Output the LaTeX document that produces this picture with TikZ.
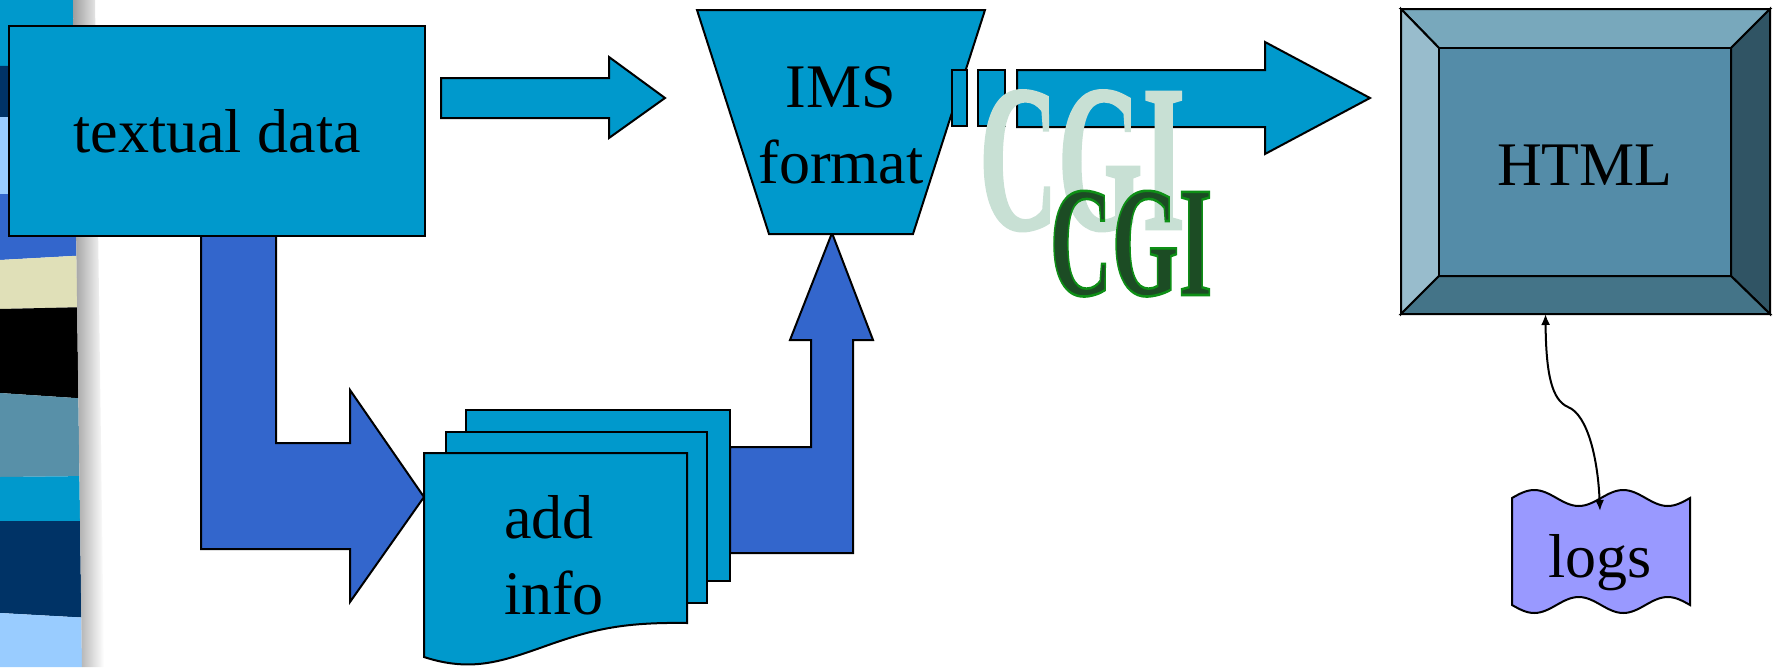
\documentclass[tikz,border=0pt]{standalone}
\usepackage{fontspec}
\setmainfont{Liberation Serif}
\usetikzlibrary{arrows.meta}

\definecolor{boxcyan}{HTML}{0099CC}
\definecolor{arrowblue}{HTML}{3366CC}
\definecolor{logsviolet}{HTML}{9999FF}
\definecolor{navy}{HTML}{003366}
\definecolor{skyblue}{HTML}{99CCFF}
\definecolor{cream}{HTML}{E0E0B8}
\definecolor{steel}{HTML}{5890A8}
\definecolor{bevtop}{HTML}{78A8BC}
\definecolor{bevleft}{HTML}{98BCCC}
\definecolor{bevright}{HTML}{305464}
\definecolor{bevbottom}{HTML}{447488}
\definecolor{screen}{HTML}{548CA8}
\definecolor{cgipale}{HTML}{C8E0D4}
\definecolor{cgidark}{HTML}{1C4C24}

% glyphs filled and stroked: #1 = stroke width, #2 = stroke colour (rgb), #3 = text
\newcommand{\strokedtext}[3]{%
  \special{pdf:literal direct 2 Tr #1 w #2 RG}#3\special{pdf:literal direct 0 Tr}}

\tikzset{
  outline/.style={draw=black, line width=2pt, line join=miter},
  panel/.style={outline, fill=boxcyan},
  blockarrow/.style={outline, fill=arrowblue},
  lbl/.style={inner sep=0pt, outer sep=0pt, font=\fontsize{62}{76}\selectfont},
  link/.style={line width=2pt,
    {Latex[length=11pt,width=9pt]}-{Latex[length=11pt,width=9pt]}},
}

\begin{document}
\begin{tikzpicture}[x=1pt, y=-1pt]
\useasboundingbox (0,0) rectangle (1773,667);
\fill[white] (0,0) rectangle (1773,667);

% striped side band with its soft shadow
\begin{scope}
  \clip (0,0) -- (73,0) -- (82,667) -- (0,667) -- cycle;
  \fill[boxcyan]    (0,0)   -- (90,0)   -- (90,64)  -- (0,66)  -- cycle;
  \fill[navy]       (0,66)  -- (90,64)  -- (90,117) -- (0,117) -- cycle;
  \fill[skyblue]    (0,117) -- (90,117) -- (90,194) -- (0,194) -- cycle;
  \fill[arrowblue]  (0,194) -- (90,194) -- (90,255) -- (0,260) -- cycle;
  \fill[cream]      (0,260) -- (90,255) -- (90,307) -- (0,309) -- cycle;
  \fill[black]      (0,309) -- (90,307) -- (90,399) -- (0,393) -- cycle;
  \fill[steel]      (0,393) -- (90,399) -- (90,476) -- (0,477) -- cycle;
  \fill[boxcyan]    (0,477) -- (90,476) -- (90,521) -- (0,521) -- cycle;
  \fill[navy]       (0,521) -- (90,521) -- (90,618) -- (0,613) -- cycle;
  \fill[skyblue]    (0,613) -- (90,618) -- (90,667) -- (0,667) -- cycle;
\end{scope}
\shade[left color=black!38, right color=white]
  (73,0) -- (95,0) -- (104,667) -- (82,667) -- cycle;

% bent arrow from the text block down to the sheets
\path[blockarrow] (201,233) -- (276,233) -- (276,443) -- (350,443) -- (350,390)
  -- (424,497) -- (350,602) -- (350,549) -- (201,549) -- cycle;

\node[panel, minimum width=416pt, minimum height=210pt, inner sep=0pt,
      outer sep=0pt, font=\fontsize{62}{76}\selectfont]
  (textual) at (217,131) {textual data};

% straight arrow towards the format stage
\path[panel] (441,78) -- (609,78) -- (609,57) -- (665,98) -- (609,138)
  -- (609,118) -- (441,118) -- cycle;

% bent arrow from the sheets up to the format stage
\path[blockarrow] (730,447) -- (811,447) -- (811,340) -- (790,340) -- (832,233)
  -- (873,340) -- (853,340) -- (853,553) -- (730,553) -- cycle;

% stack of sheets
\path[panel] (466,410) rectangle (730,581);
\path[panel] (446,432) rectangle (707,603);
\path[panel] (424,453) -- (687,453) -- (687,623)
  .. controls (620,622) and (590,630) .. (540,648)
  .. controls (500,662) and (470,672) .. (424,657) -- cycle;
\node[lbl, align=left, anchor=west] (addinfo) at (504,555) {add\\info};

% format stage
\path[panel] (697,10) -- (985,10) -- (913,234) -- (769,234) -- cycle;
\node[lbl, align=center] (ims) at (841,125) {IMS\\format};

% broken arrow towards the page
\path[panel] (952,70) rectangle (967,126);
\path[panel] (978,70) rectangle (1005,126);
\path[panel] (1017,70) -- (1265,70) -- (1265,42) -- (1370,98) -- (1265,154)
  -- (1265,127) -- (1017,127) -- cycle;

\node[inner sep=0pt, anchor=base, text=cgipale] (cgiback) at (1082,229)
  {\scalebox{1}[1.92]{\fontsize{109}{109}\selectfont\bfseries
    \strokedtext{1.5}{0.784 0.878 0.831}{CGI}}};

% bevelled page
\node[minimum width=369pt, minimum height=305pt, inner sep=0pt, outer sep=0pt]
  (frame) at (1585.5,161.5) {};
\node[minimum width=292pt, minimum height=228pt, inner sep=0pt, outer sep=0pt]
  (html) at (1585,162) {};
\path[outline, fill=bevtop] (frame.north west) -- (frame.north east)
  -- (html.north east) -- (html.north west) -- cycle;
\path[outline, fill=bevleft] (frame.north west) -- (html.north west)
  -- (html.south west) -- (frame.south west) -- cycle;
\path[outline, fill=bevright] (frame.north east) -- (frame.south east)
  -- (html.south east) -- (html.north east) -- cycle;
\path[outline, fill=bevbottom] (frame.south west) -- (frame.south east)
  -- (html.south east) -- (html.south west) -- cycle;
\path[outline, fill=screen] (html.north west) rectangle (html.south east);
\node[lbl, anchor=base] (htmltext) at (1585,185) {HTML};

% log file on punched tape
\path[outline, fill=logsviolet]
  (1512,498) sin (1534.25,490) cos (1556.5,498) sin (1578.75,506) cos (1601,498)
  sin (1623.25,490) cos (1645.5,498) sin (1667.75,506) cos (1690,498)
  -- (1690,605)
  sin (1667.75,597) cos (1645.5,605) sin (1623.25,613) cos (1601,605)
  sin (1578.75,597) cos (1556.5,605) sin (1534.25,613) cos (1512,605)
  -- cycle;
\node[lbl, anchor=base] (logs) at (1600,577) {logs};

\draw[link] ([xshift=-40pt]frame.south)
  .. controls (1546,375) and (1552,400) .. (1568,407)
  .. controls (1588,415) and (1598,460) .. ([yshift=23pt]logs.north);

\node[inner sep=0pt, anchor=base, text=cgidark] (cgifront) at (1131,295)
  {\scalebox{1}[1.83]{\fontsize{86}{86}\selectfont\bfseries
    \strokedtext{1.4}{0.055 0.56 0.086}{CGI}}};
\end{tikzpicture}
\end{document}
